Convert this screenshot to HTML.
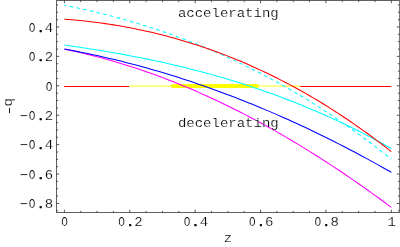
<!DOCTYPE html>
<html><head><meta charset="utf-8"><title>plot</title>
<style>html,body{margin:0;padding:0;background:#fff;width:400px;height:247px;overflow:hidden;position:relative;font-family:"Liberation Mono",monospace;}</style>
</head><body>
<svg width="400" height="247" viewBox="0 0 400 247" style="position:absolute;left:0;top:0;will-change:transform">
<rect width="400" height="247" fill="#fff"/>
<g fill="none" stroke-width="1.05">
<path d="M64.10000000000001,86.4 L129.18,86.4" stroke="#ff0000"/>
<path d="M129.18,86.05 L300.26,86.05" stroke="#ffff00" stroke-width="0.95"/>
<path d="M300.26,86.4 L391.30,86.4" stroke="#ff0000"/>
<path d="M173,86.05 L257,86.05" stroke="#ffff00" stroke-width="4.1" stroke-linecap="round"/>
<path d="M64.40,49.19 L68.49,50.02 L72.57,50.88 L76.66,51.78 L80.75,52.70 L84.83,53.66 L88.92,54.65 L93.00,55.66 L97.09,56.71 L101.18,57.79 L105.26,58.90 L109.35,60.04 L113.44,61.21 L117.52,62.41 L121.61,63.64 L125.69,64.90 L129.78,66.19 L133.87,67.51 L137.95,68.86 L142.04,70.24 L146.12,71.65 L150.21,73.09 L154.30,74.56 L158.38,76.05 L162.47,77.58 L166.56,79.14 L170.64,80.72 L174.73,82.34 L178.81,83.98 L182.90,85.65 L186.99,87.35 L191.07,89.08 L195.16,90.84 L199.25,92.63 L203.33,94.45 L207.42,96.29 L211.50,98.16 L215.59,100.06 L219.68,101.99 L223.76,103.95 L227.85,105.93 L231.94,107.95 L236.02,109.99 L240.11,112.06 L244.19,114.15 L248.28,116.28 L252.37,118.43 L256.45,120.60 L260.54,122.81 L264.63,125.04 L268.71,127.30 L272.80,129.59 L276.88,131.91 L280.97,134.25 L285.06,136.62 L289.14,139.01 L293.23,141.43 L297.32,143.88 L301.40,146.36 L305.49,148.86 L309.57,151.38 L313.66,153.94 L317.75,156.52 L321.83,159.12 L325.92,161.76 L330.01,164.41 L334.09,167.10 L338.18,169.81 L342.26,172.54 L346.35,175.30 L350.44,178.09 L354.52,180.90 L358.61,183.74 L362.70,186.60 L366.78,189.49 L370.87,192.40 L374.95,195.34 L379.04,198.30 L383.13,201.29 L387.21,204.30 L391.30,207.34" stroke="#ff00ff"/>
<path d="M64.40,49.06 L68.49,49.80 L72.57,50.57 L76.66,51.36 L80.75,52.17 L84.83,53.00 L88.92,53.84 L93.00,54.71 L97.09,55.60 L101.18,56.51 L105.26,57.44 L109.35,58.39 L113.44,59.36 L117.52,60.35 L121.61,61.36 L125.69,62.39 L129.78,63.44 L133.87,64.51 L137.95,65.60 L142.04,66.71 L146.12,67.84 L150.21,68.99 L154.30,70.16 L158.38,71.36 L162.47,72.57 L166.56,73.80 L170.64,75.05 L174.73,76.32 L178.81,77.62 L182.90,78.93 L186.99,80.26 L191.07,81.61 L195.16,82.98 L199.25,84.38 L203.33,85.79 L207.42,87.22 L211.50,88.67 L215.59,90.15 L219.68,91.64 L223.76,93.15 L227.85,94.68 L231.94,96.24 L236.02,97.81 L240.11,99.40 L244.19,101.01 L248.28,102.65 L252.37,104.30 L256.45,105.97 L260.54,107.66 L264.63,109.38 L268.71,111.11 L272.80,112.86 L276.88,114.63 L280.97,116.42 L285.06,118.24 L289.14,120.07 L293.23,121.92 L297.32,123.79 L301.40,125.68 L305.49,127.59 L309.57,129.52 L313.66,131.48 L317.75,133.45 L321.83,135.44 L325.92,137.45 L330.01,139.48 L334.09,141.53 L338.18,143.60 L342.26,145.69 L346.35,147.80 L350.44,149.93 L354.52,152.07 L358.61,154.24 L362.70,156.43 L366.78,158.64 L370.87,160.87 L374.95,163.12 L379.04,165.38 L383.13,167.67 L387.21,169.98 L391.30,172.30" stroke="#0000ff"/>
<path d="M64.40,45.08 L68.49,45.65 L72.57,46.22 L76.66,46.81 L80.75,47.41 L84.83,48.03 L88.92,48.65 L93.00,49.29 L97.09,49.94 L101.18,50.61 L105.26,51.28 L109.35,51.98 L113.44,52.68 L117.52,53.40 L121.61,54.14 L125.69,54.89 L129.78,55.65 L133.87,56.43 L137.95,57.23 L142.04,58.04 L146.12,58.87 L150.21,59.72 L154.30,60.58 L158.38,61.46 L162.47,62.35 L166.56,63.27 L170.64,64.20 L174.73,65.15 L178.81,66.12 L182.90,67.11 L186.99,68.11 L191.07,69.14 L195.16,70.18 L199.25,71.25 L203.33,72.33 L207.42,73.44 L211.50,74.56 L215.59,75.71 L219.68,76.88 L223.76,78.07 L227.85,79.28 L231.94,80.51 L236.02,81.77 L240.11,83.04 L244.19,84.34 L248.28,85.67 L252.37,87.01 L256.45,88.38 L260.54,89.78 L264.63,91.19 L268.71,92.64 L272.80,94.10 L276.88,95.59 L280.97,97.11 L285.06,98.65 L289.14,100.22 L293.23,101.81 L297.32,103.43 L301.40,105.08 L305.49,106.75 L309.57,108.45 L313.66,110.18 L317.75,111.93 L321.83,113.72 L325.92,115.53 L330.01,117.37 L334.09,119.23 L338.18,121.13 L342.26,123.06 L346.35,125.01 L350.44,127.00 L354.52,129.01 L358.61,131.06 L362.70,133.13 L366.78,135.24 L370.87,137.38 L374.95,139.55 L379.04,141.75 L383.13,143.98 L387.21,146.24 L391.30,148.54" stroke="#00ffff"/>
<path d="M64.40,5.22 L68.49,6.04 L72.57,6.88 L76.66,7.75 L80.75,8.64 L84.83,9.55 L88.92,10.49 L93.00,11.44 L97.09,12.42 L101.18,13.43 L105.26,14.45 L109.35,15.50 L113.44,16.58 L117.52,17.68 L121.61,18.80 L125.69,19.95 L129.78,21.13 L133.87,22.32 L137.95,23.55 L142.04,24.80 L146.12,26.08 L150.21,27.38 L154.30,28.71 L158.38,30.06 L162.47,31.45 L166.56,32.86 L170.64,34.30 L174.73,35.76 L178.81,37.25 L182.90,38.77 L186.99,40.32 L191.07,41.90 L195.16,43.51 L199.25,45.15 L203.33,46.81 L207.42,48.51 L211.50,50.23 L215.59,51.99 L219.68,53.77 L223.76,55.59 L227.85,57.43 L231.94,59.31 L236.02,61.22 L240.11,63.16 L244.19,65.13 L248.28,67.14 L252.37,69.17 L256.45,71.24 L260.54,73.34 L264.63,75.48 L268.71,77.64 L272.80,79.85 L276.88,82.08 L280.97,84.35 L285.06,86.65 L289.14,88.99 L293.23,91.36 L297.32,93.76 L301.40,96.20 L305.49,98.68 L309.57,101.19 L313.66,103.74 L317.75,106.32 L321.83,108.94 L325.92,111.60 L330.01,114.29 L334.09,117.02 L338.18,119.78 L342.26,122.59 L346.35,125.43 L350.44,128.31 L354.52,131.23 L358.61,134.18 L362.70,137.18 L366.78,140.21 L370.87,143.28 L374.95,146.40 L379.04,149.55 L383.13,152.74 L387.21,155.97 L391.30,159.24" stroke="#00ffff" stroke-dasharray="3.6,3.3" stroke-dashoffset="1.6"/>
<path d="M64.40,19.16 L68.49,19.47 L72.57,19.82 L76.66,20.19 L80.75,20.59 L84.83,21.02 L88.92,21.48 L93.00,21.97 L97.09,22.50 L101.18,23.05 L105.26,23.63 L109.35,24.24 L113.44,24.88 L117.52,25.55 L121.61,26.26 L125.69,26.99 L129.78,27.76 L133.87,28.56 L137.95,29.39 L142.04,30.25 L146.12,31.14 L150.21,32.07 L154.30,33.03 L158.38,34.02 L162.47,35.05 L166.56,36.11 L170.64,37.20 L174.73,38.33 L178.81,39.49 L182.90,40.68 L186.99,41.91 L191.07,43.17 L195.16,44.47 L199.25,45.80 L203.33,47.17 L207.42,48.58 L211.50,50.02 L215.59,51.49 L219.68,53.00 L223.76,54.55 L227.85,56.13 L231.94,57.75 L236.02,59.41 L240.11,61.10 L244.19,62.83 L248.28,64.60 L252.37,66.41 L256.45,68.25 L260.54,70.13 L264.63,72.05 L268.71,74.01 L272.80,76.00 L276.88,78.04 L280.97,80.11 L285.06,82.23 L289.14,84.38 L293.23,86.57 L297.32,88.81 L301.40,91.08 L305.49,93.39 L309.57,95.74 L313.66,98.14 L317.75,100.57 L321.83,103.05 L325.92,105.56 L330.01,108.12 L334.09,110.72 L338.18,113.36 L342.26,116.04 L346.35,118.77 L350.44,121.54 L354.52,124.35 L358.61,127.20 L362.70,130.10 L366.78,133.04 L370.87,136.02 L374.95,139.05 L379.04,142.12 L383.13,145.23 L387.21,148.39 L391.30,151.59" stroke="#ff0000"/>
</g>
<g stroke="#606060" stroke-width="1" fill="none" shape-rendering="crispEdges">
<path d="M399.5,0.5 H56.5 V212.5 H399.5"/>
<path d="M399.5,0.5 V212.5" stroke="#777"/>
</g>
<path d="M64.40,212.5 V209.70 M64.40,0.5 V3.30 M80.75,212.5 V210.90 M80.75,0.5 V2.10 M97.09,212.5 V210.90 M97.09,0.5 V2.10 M113.44,212.5 V210.90 M113.44,0.5 V2.10 M129.78,212.5 V209.70 M129.78,0.5 V3.30 M146.12,212.5 V210.90 M146.12,0.5 V2.10 M162.47,212.5 V210.90 M162.47,0.5 V2.10 M178.81,212.5 V210.90 M178.81,0.5 V2.10 M195.16,212.5 V209.70 M195.16,0.5 V3.30 M211.50,212.5 V210.90 M211.50,0.5 V2.10 M227.85,212.5 V210.90 M227.85,0.5 V2.10 M244.20,212.5 V210.90 M244.20,0.5 V2.10 M260.54,212.5 V209.70 M260.54,0.5 V3.30 M276.88,212.5 V210.90 M276.88,0.5 V2.10 M293.23,212.5 V210.90 M293.23,0.5 V2.10 M309.57,212.5 V210.90 M309.57,0.5 V2.10 M325.92,212.5 V209.70 M325.92,0.5 V3.30 M342.26,212.5 V210.90 M342.26,0.5 V2.10 M358.61,212.5 V210.90 M358.61,0.5 V2.10 M374.96,212.5 V210.90 M374.96,0.5 V2.10 M391.30,212.5 V209.70 M391.30,0.5 V3.30 M56.5,210.84 H58.10 M399.5,210.84 H397.90 M56.5,203.48 H59.30 M399.5,203.48 H396.70 M56.5,196.12 H58.10 M399.5,196.12 H397.90 M56.5,188.77 H58.10 M399.5,188.77 H397.90 M56.5,181.41 H58.10 M399.5,181.41 H397.90 M56.5,174.06 H59.30 M399.5,174.06 H396.70 M56.5,166.70 H58.10 M399.5,166.70 H397.90 M56.5,159.35 H58.10 M399.5,159.35 H397.90 M56.5,152.00 H58.10 M399.5,152.00 H397.90 M56.5,144.64 H59.30 M399.5,144.64 H396.70 M56.5,137.28 H58.10 M399.5,137.28 H397.90 M56.5,129.93 H58.10 M399.5,129.93 H397.90 M56.5,122.57 H58.10 M399.5,122.57 H397.90 M56.5,115.22 H59.30 M399.5,115.22 H396.70 M56.5,107.86 H58.10 M399.5,107.86 H397.90 M56.5,100.51 H58.10 M399.5,100.51 H397.90 M56.5,93.16 H58.10 M399.5,93.16 H397.90 M56.5,85.80 H59.30 M399.5,85.80 H396.70 M56.5,78.44 H58.10 M399.5,78.44 H397.90 M56.5,71.09 H58.10 M399.5,71.09 H397.90 M56.5,63.73 H58.10 M399.5,63.73 H397.90 M56.5,56.38 H59.30 M399.5,56.38 H396.70 M56.5,49.02 H58.10 M399.5,49.02 H397.90 M56.5,41.67 H58.10 M399.5,41.67 H397.90 M56.5,34.31 H58.10 M399.5,34.31 H397.90 M56.5,26.96 H59.30 M399.5,26.96 H396.70 M56.5,19.61 H58.10 M399.5,19.61 H397.90 M56.5,12.25 H58.10 M399.5,12.25 H397.90 M56.5,4.89 H58.10 M399.5,4.89 H397.90" stroke="#222" stroke-width="0.75" fill="none"/>
<g font-family="Liberation Mono, monospace" font-size="12.4" fill="#000" stroke="#fff" stroke-width="0.18">
<g transform="translate(64.70,226.00) "><text transform="translate(0.00,0) scale(0.9,1)" text-anchor="middle">O</text></g>
<g transform="translate(130.08,226.00) "><text transform="translate(-8.40,0) scale(0.9,1)" text-anchor="middle">O</text><text transform="translate(0.00,0) scale(1.1288,1)" text-anchor="middle" stroke="#000" stroke-width="0.45">.</text><text transform="translate(8.40,0) scale(1.1288,1)" text-anchor="middle">2</text></g>
<g transform="translate(195.46,226.00) "><text transform="translate(-8.40,0) scale(0.9,1)" text-anchor="middle">O</text><text transform="translate(0.00,0) scale(1.1288,1)" text-anchor="middle" stroke="#000" stroke-width="0.45">.</text><text transform="translate(8.40,0) scale(1.1288,1)" text-anchor="middle">4</text></g>
<g transform="translate(260.84,226.00) "><text transform="translate(-8.40,0) scale(0.9,1)" text-anchor="middle">O</text><text transform="translate(0.00,0) scale(1.1288,1)" text-anchor="middle" stroke="#000" stroke-width="0.45">.</text><text transform="translate(8.40,0) scale(1.1288,1)" text-anchor="middle">6</text></g>
<g transform="translate(326.22,226.00) "><text transform="translate(-8.40,0) scale(0.9,1)" text-anchor="middle">O</text><text transform="translate(0.00,0) scale(1.1288,1)" text-anchor="middle" stroke="#000" stroke-width="0.45">.</text><text transform="translate(8.40,0) scale(1.1288,1)" text-anchor="middle">8</text></g>
<g transform="translate(391.60,226.00) "><text transform="translate(0.00,0) scale(1.1288,1)" text-anchor="middle">1</text></g>
<g transform="translate(53.20,32.00) "><text transform="translate(-21.00,0) scale(0.9,1)" text-anchor="middle">O</text><text transform="translate(-12.60,0) scale(1.1288,1)" text-anchor="middle" stroke="#000" stroke-width="0.45">.</text><text transform="translate(-4.20,0) scale(1.1288,1)" text-anchor="middle">4</text></g>
<g transform="translate(53.20,61.00) "><text transform="translate(-21.00,0) scale(0.9,1)" text-anchor="middle">O</text><text transform="translate(-12.60,0) scale(1.1288,1)" text-anchor="middle" stroke="#000" stroke-width="0.45">.</text><text transform="translate(-4.20,0) scale(1.1288,1)" text-anchor="middle">2</text></g>
<g transform="translate(53.20,91.00) "><text transform="translate(-4.20,0) scale(0.9,1)" text-anchor="middle">O</text></g>
<g transform="translate(53.20,120.00) "><text transform="translate(-29.40,0) scale(1.1288,1)" text-anchor="middle">−</text><text transform="translate(-21.00,0) scale(0.9,1)" text-anchor="middle">O</text><text transform="translate(-12.60,0) scale(1.1288,1)" text-anchor="middle" stroke="#000" stroke-width="0.45">.</text><text transform="translate(-4.20,0) scale(1.1288,1)" text-anchor="middle">2</text></g>
<g transform="translate(53.20,149.00) "><text transform="translate(-29.40,0) scale(1.1288,1)" text-anchor="middle">−</text><text transform="translate(-21.00,0) scale(0.9,1)" text-anchor="middle">O</text><text transform="translate(-12.60,0) scale(1.1288,1)" text-anchor="middle" stroke="#000" stroke-width="0.45">.</text><text transform="translate(-4.20,0) scale(1.1288,1)" text-anchor="middle">4</text></g>
<g transform="translate(53.20,179.00) "><text transform="translate(-29.40,0) scale(1.1288,1)" text-anchor="middle">−</text><text transform="translate(-21.00,0) scale(0.9,1)" text-anchor="middle">O</text><text transform="translate(-12.60,0) scale(1.1288,1)" text-anchor="middle" stroke="#000" stroke-width="0.45">.</text><text transform="translate(-4.20,0) scale(1.1288,1)" text-anchor="middle">6</text></g>
<g transform="translate(53.20,208.00) "><text transform="translate(-29.40,0) scale(1.1288,1)" text-anchor="middle">−</text><text transform="translate(-21.00,0) scale(0.9,1)" text-anchor="middle">O</text><text transform="translate(-12.60,0) scale(1.1288,1)" text-anchor="middle" stroke="#000" stroke-width="0.45">.</text><text transform="translate(-4.20,0) scale(1.1288,1)" text-anchor="middle">8</text></g>
<g transform="translate(228.30,16.50) "><text transform="translate(-46.20,0) scale(1.1288,1)" text-anchor="middle">a</text><text transform="translate(-37.80,0) scale(1.1288,1)" text-anchor="middle">c</text><text transform="translate(-29.40,0) scale(1.1288,1)" text-anchor="middle">c</text><text transform="translate(-21.00,0) scale(1.1288,1)" text-anchor="middle">e</text><text transform="translate(-12.60,0) scale(1.1288,1)" text-anchor="middle">l</text><text transform="translate(-4.20,0) scale(1.1288,1)" text-anchor="middle">e</text><text transform="translate(4.20,0) scale(1.1288,1)" text-anchor="middle">r</text><text transform="translate(12.60,0) scale(1.1288,1)" text-anchor="middle">a</text><text transform="translate(21.00,0) scale(1.1288,1)" text-anchor="middle">t</text><text transform="translate(29.40,0) scale(1.1288,1)" text-anchor="middle">i</text><text transform="translate(37.80,0) scale(1.1288,1)" text-anchor="middle">n</text><text transform="translate(46.20,0) scale(1.1288,1)" text-anchor="middle">g</text></g>
<g transform="translate(228.30,126.50) "><text transform="translate(-46.20,0) scale(1.1288,1)" text-anchor="middle">d</text><text transform="translate(-37.80,0) scale(1.1288,1)" text-anchor="middle">e</text><text transform="translate(-29.40,0) scale(1.1288,1)" text-anchor="middle">c</text><text transform="translate(-21.00,0) scale(1.1288,1)" text-anchor="middle">e</text><text transform="translate(-12.60,0) scale(1.1288,1)" text-anchor="middle">l</text><text transform="translate(-4.20,0) scale(1.1288,1)" text-anchor="middle">e</text><text transform="translate(4.20,0) scale(1.1288,1)" text-anchor="middle">r</text><text transform="translate(12.60,0) scale(1.1288,1)" text-anchor="middle">a</text><text transform="translate(21.00,0) scale(1.1288,1)" text-anchor="middle">t</text><text transform="translate(29.40,0) scale(1.1288,1)" text-anchor="middle">i</text><text transform="translate(37.80,0) scale(1.1288,1)" text-anchor="middle">n</text><text transform="translate(46.20,0) scale(1.1288,1)" text-anchor="middle">g</text></g>
<g transform="translate(228.00,242.00) "><text transform="translate(0.00,0) scale(1.1288,1)" text-anchor="middle">z</text></g>
<g transform="translate(12.10,106.40) rotate(-90)"><text transform="translate(-4.20,0) scale(1.1288,1)" text-anchor="middle"> </text><text transform="translate(4.20,0) scale(1.1288,1)" text-anchor="middle">q</text></g>
<path d="M9.5,107.9 V113.2" stroke="#111" stroke-width="0.95" fill="none"/>
</g>
</svg>
</body></html>
